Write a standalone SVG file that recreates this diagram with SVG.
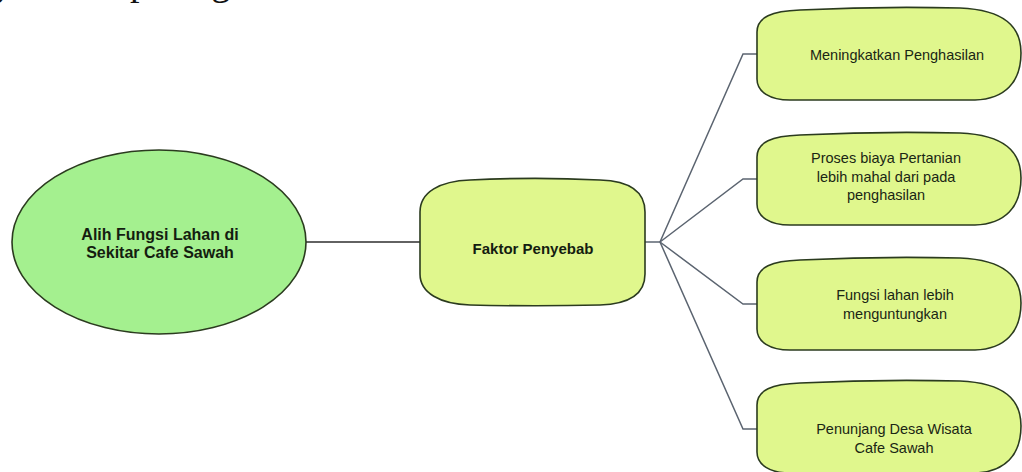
<svg xmlns="http://www.w3.org/2000/svg" xmlns:xlink="http://www.w3.org/1999/xlink" width="1022" height="472" viewBox="0 0 1022 472">
<style>
.node{stroke:#2b3b1f;stroke-width:1.6}
.green{fill:#a4f08f}
.yg{fill:#e0f78d}
.bold{font-family:"Liberation Sans",Arial,sans-serif;font-weight:bold;fill:#141d10;text-anchor:middle}
.reg{font-family:"Liberation Sans",Arial,sans-serif;font-size:14.5px;fill:#1a2614;text-anchor:middle}
.link{fill:none;stroke:#5b6470;stroke-width:1.5}
.link0{fill:none;stroke:#2e2e2e;stroke-width:1.5}
</style>
<defs>
<path id="leaf" d="M 757,25 C 757,10 772,4 800,3 C 860,0 920,0 960,1 C 1005,3 1021,20 1021,46 C 1021,75 1005,92 975,93 L 790,93 C 770,93 757,85 757,72 Z"/>
</defs>
<rect width="1022" height="472" fill="#ffffff"/>
<text x="-4" y="-5" font-family="Liberation Serif,Times New Roman,serif" font-size="38" fill="#111">jelaskan pada gambar</text>
<g id="connectors">
<line class="link0" x1="306" y1="242" x2="420" y2="242"/>
<polyline class="link" points="645,242 660,242"/>
<polyline class="link" points="660,242 743,54 757,54"/>
<polyline class="link" points="660,242 743,179 757,179"/>
<polyline class="link" points="660,242 743,304 757,304"/>
<polyline class="link" points="660,242 743,429 757,429"/>
</g>
<g id="n-root">
<ellipse class="node green" cx="159" cy="242" rx="147" ry="92"/>
<text class="bold" font-size="16" x="160" y="240">Alih Fungsi Lahan di</text>
<text class="bold" font-size="16" x="160" y="258">Sekitar Cafe Sawah</text>
</g>
<g id="n-faktor">
<path class="node yg" d="M 420,212 C 420,192 440,181 470,180 C 510,178 560,178 600,180 C 630,181 645,192 645,212 L 645,274 C 645,293 630,304 600,305 C 560,306 510,306 470,305 C 440,304 420,293 420,274 Z"/>
<text class="bold" font-size="15" x="533" y="254">Faktor Penyebab</text>
</g>
<g id="n-1">
<use xlink:href="#leaf" class="node yg" transform="translate(0,7)"/>
<text class="reg" x="897" y="60">Meningkatkan Penghasilan</text>
</g>
<g id="n-2">
<use xlink:href="#leaf" class="node yg" transform="translate(0,132)"/>
<text class="reg" x="886" y="163">Proses biaya Pertanian</text>
<text class="reg" x="886" y="182">lebih mahal dari pada</text>
<text class="reg" x="886" y="200">penghasilan</text>
</g>
<g id="n-3">
<use xlink:href="#leaf" class="node yg" transform="translate(0,257)"/>
<text class="reg" x="895" y="300">Fungsi lahan lebih</text>
<text class="reg" x="895" y="319">menguntungkan</text>
</g>
<g id="n-4">
<use xlink:href="#leaf" class="node yg" transform="translate(0,380)"/>
<text class="reg" x="894" y="434">Penunjang Desa Wisata</text>
<text class="reg" x="894" y="453">Cafe Sawah</text>
</g>
</svg>
